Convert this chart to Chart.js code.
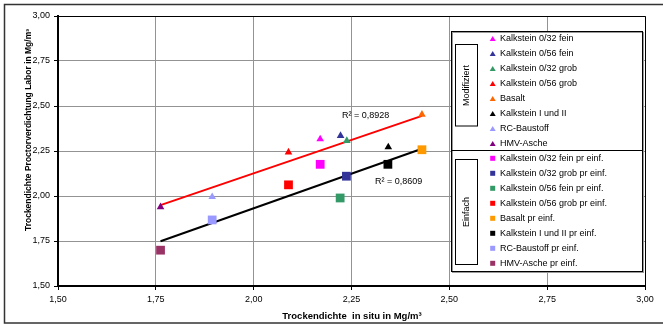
<!DOCTYPE html>
<html lang="de">
<head>
<meta charset="utf-8">
<title>Trockendichte in situ / Labor</title>
<script src="https://cdn.jsdelivr.net/npm/chart.js@4.4.1/dist/chart.umd.min.js"></script>
<style>
    html, body { margin: 0; padding: 0; background: #ffffff; }
    #contenedor { width: 663px; height: 325px; }
</style>
</head>
<body>
<div id="contenedor"><canvas id="grafica" width="663" height="325"></canvas></div>
<script>
/* ==========================================================================
   DATOS
   ========================================================================== */
const etiquetasModifiziert = ['Kalkstein 0/32 fein', 'Kalkstein 0/56 fein', 'Kalkstein 0/32 grob', 'Kalkstein 0/56 grob',
    'Basalt', 'Kalkstein I und II', 'RC-Baustoff', 'HMV-Asche'];
const xModifiziert = [2.170, 2.222, 2.238, 2.089, 2.430, 2.344, 1.894, 1.762];
const yModifiziert = [2.316, 2.335, 2.307, 2.243, 2.453, 2.272, 1.995, 1.939];
const coloresModifiziert = ['#ff00ff', '#333399', '#339966', '#ff0000', '#ff6600', '#000000', '#9999ff', '#800080'];

const etiquetasEinfach = ['Kalkstein 0/32 fein pr einf.', 'Kalkstein 0/32 grob pr einf.', 'Kalkstein 0/56 fein pr einf.',
    'Kalkstein 0/56 grob pr einf.', 'Basalt pr einf.', 'Kalkstein I und II pr einf.', 'RC-Baustoff pr einf.', 'HMV-Asche pr einf.'];
const xEinfach = [2.170, 2.237, 2.221, 2.089, 2.430, 2.343, 1.894, 1.762];
const yEinfach = [2.176, 2.110, 1.989, 2.062, 2.257, 2.176, 1.867, 1.699];
const coloresEinfach = ['#ff00ff', '#333399', '#339966', '#ff0000', '#ff9900', '#000000', '#9999ff', '#993366'];

const etiquetasTicks = ['1,50', '1,75', '2,00', '2,25', '2,50', '2,75', '3,00'];
const textoR2Modifiziert = 'R² = 0,8928';
const textoR2Einfach = 'R² = 0,8609';
const tituloX = 'Trockendichte  in situ in Mg/m³';
const tituloY = 'Trockendichte Proctorverdichtung Labor in Mg/m³';

/* ==========================================================================
   TENDENCIA LINEAL (MÍNIMOS CUADRADOS)
   ========================================================================== */
function regresion(xs, ys) {
    const n = xs.length;
    const mx = xs.reduce((a, b) => a + b, 0) / n;
    const my = ys.reduce((a, b) => a + b, 0) / n;
    let sxy = 0, sxx = 0;
    for (let i = 0; i < n; i++) {
        sxy += (xs[i] - mx) * (ys[i] - my);
        sxx += (xs[i] - mx) * (xs[i] - mx);
    }
    const m = sxy / sxx;
    const b = my - m * mx;
    const x0 = Math.min(...xs), x1 = Math.max(...xs);
    return [{ x: x0, y: m * x0 + b }, { x: x1, y: m * x1 + b }];
}

/* ==========================================================================
   DATASETS
   ========================================================================== */
const fuente = "'Liberation Sans', Arial, sans-serif";
Chart.defaults.font.family = fuente;
Chart.defaults.font.size = 9;
Chart.defaults.color = '#000';

const datasets = [];
etiquetasModifiziert.forEach((nombre, i) => {
    datasets.push({
        label: nombre,
        data: [{ x: xModifiziert[i], y: yModifiziert[i] }],
        pointStyle: 'triangle', pointRadius: 4.4, borderWidth: 0,
        backgroundColor: coloresModifiziert[i], borderColor: coloresModifiziert[i]
    });
});
etiquetasEinfach.forEach((nombre, i) => {
    datasets.push({
        label: nombre,
        data: [{ x: xEinfach[i], y: yEinfach[i] }],
        pointStyle: 'rect', pointRadius: 6.2, borderWidth: 0,
        backgroundColor: coloresEinfach[i], borderColor: coloresEinfach[i]
    });
});
datasets.push({
    label: 'Trend Modifiziert', data: regresion(xModifiziert, yModifiziert),
    showLine: true, pointRadius: 0, borderColor: '#ff0000', borderWidth: 2, order: 1
});
datasets.push({
    label: 'Trend Einfach', data: regresion(xEinfach, yEinfach),
    showLine: true, pointRadius: 0, borderColor: '#000000', borderWidth: 2, order: 1
});

/* ==========================================================================
   PLUGIN: MARCO, TÍTULOS, R² Y LEYENDA
   ========================================================================== */
function dibujarMarcador(ctx, estilo, color, x, y) {
    ctx.fillStyle = color;
    ctx.beginPath();
    if (estilo === 'triangle') {
        ctx.moveTo(x, y - 3);
        ctx.lineTo(x + 3, y + 2);
        ctx.lineTo(x - 3, y + 2);
        ctx.closePath();
        ctx.fill();
    } else {
        ctx.fillRect(x - 2.5, y - 2.5, 5, 5);
    }
}

const decoracion = {
    id: 'decoracion',
    afterDraw(chart) {
        const ctx = chart.ctx;
        const area = chart.chartArea;
        ctx.save();

        // marco exterior
        ctx.strokeStyle = '#333';
        ctx.lineWidth = 1.5;
        ctx.strokeRect(4.5, 4.5, 700, 318.5);

        // borde superior y derecho del área
        ctx.strokeStyle = '#000';
        ctx.lineWidth = 1;
        ctx.beginPath();
        ctx.moveTo(area.left, Math.round(area.top) + 0.5);
        ctx.lineTo(Math.round(area.right) + 0.5, Math.round(area.top) + 0.5);
        ctx.lineTo(Math.round(area.right) + 0.5, area.bottom);
        ctx.stroke();

        // títulos de ejes
        ctx.fillStyle = '#000';
        ctx.textAlign = 'center';
        ctx.textBaseline = 'middle';
        ctx.font = 'bold 9.5px ' + fuente;
        ctx.fillText(tituloX, 352, 316);
        ctx.font = 'bold 8.5px ' + fuente;
        ctx.save();
        ctx.translate(29, 130);
        ctx.rotate(-Math.PI / 2);
        ctx.fillText(tituloY, 0, 0);
        ctx.restore();

        // coeficientes R²
        ctx.font = '9px ' + fuente;
        ctx.textAlign = 'left';
        ctx.fillText(textoR2Modifiziert, 342, 116);
        ctx.fillText(textoR2Einfach, 375, 182);

        // leyenda
        const lx = 451.5, ly = 31.5, lw = 191, lh = 240, division = 150.5;
        ctx.fillStyle = '#fff';
        ctx.fillRect(lx, ly, lw, lh);
        ctx.strokeStyle = '#9a9a9a';
        ctx.lineWidth = 1;
        ctx.strokeRect(lx + 1, ly + 1, lw, lh);
        ctx.strokeStyle = '#000';
        ctx.strokeRect(lx, ly, lw, lh);
        ctx.beginPath();
        ctx.moveTo(lx, division);
        ctx.lineTo(lx + lw, division);
        ctx.stroke();

        // cajas de grupo
        ctx.strokeRect(455.5, 44.5, 22, 81.5);
        ctx.strokeRect(455.5, 159.5, 22, 105);
        ctx.fillStyle = '#000';
        ctx.textAlign = 'center';
        ctx.save();
        ctx.translate(466.5, 85.5);
        ctx.rotate(-Math.PI / 2);
        ctx.fillText('Modifiziert', 0, 0);
        ctx.restore();
        ctx.save();
        ctx.translate(466.5, 212);
        ctx.rotate(-Math.PI / 2);
        ctx.fillText('Einfach', 0, 0);
        ctx.restore();

        // entradas
        ctx.textAlign = 'left';
        etiquetasModifiziert.forEach((nombre, i) => {
            const y = ly + 7.5 + i * 15;
            dibujarMarcador(ctx, 'triangle', coloresModifiziert[i], 492.7, y);
            ctx.fillStyle = '#000';
            ctx.fillText(nombre, 500, y);
        });
        etiquetasEinfach.forEach((nombre, i) => {
            const y = division + 7.8 + i * 15;
            dibujarMarcador(ctx, 'rect', coloresEinfach[i], 492.7, y);
            ctx.fillStyle = '#000';
            ctx.fillText(nombre, 500, y);
        });

        ctx.restore();
    }
};

/* ==========================================================================
   GRÁFICA
   ========================================================================== */
const ejeComun = (lado) => ({
    type: 'linear',
    min: 1.5,
    max: 3,
    ticks: {
        stepSize: 0.25,
        autoSkip: false,
        maxRotation: 0,
        padding: 4,
        color: '#000',
        font: { size: 9 },
        callback: (valor, indice) => etiquetasTicks[indice]
    },
    grid: { color: '#939393', tickColor: '#000', tickLength: 4, lineWidth: 1 },
    border: { color: '#000', width: 2 },
    afterFit: (escala) => {
        if (lado === 'x') escala.height = 39;
        else escala.width = 58;
    }
});

new Chart(document.getElementById('grafica'), {
    type: 'scatter',
    data: { datasets },
    options: {
        responsive: false,
        animation: false,
        events: [],
        layout: { padding: { top: 16, right: 18, left: 0, bottom: 0 } },
        plugins: { legend: { display: false }, tooltip: { enabled: false } },
        scales: {
            x: Object.assign(ejeComun('x'), { position: 'bottom' }),
            y: Object.assign(ejeComun('y'), { position: 'left' })
        }
    },
    plugins: [decoracion]
});
</script>
</body>
</html>
